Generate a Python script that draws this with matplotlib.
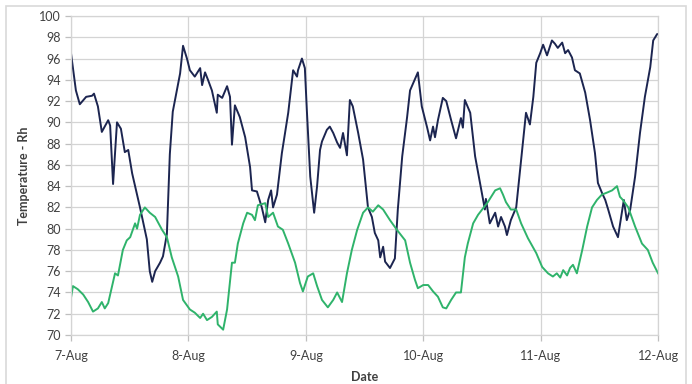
import matplotlib
matplotlib.use("Agg")
import matplotlib.pyplot as plt
from matplotlib.patches import Rectangle

# hours since 7-Aug 00:00
rh_hours = [0.0, 1.0, 1.8, 3.1, 4.3, 4.7, 5.5, 6.3, 7.6, 8.0, 8.6, 9.4, 10.2, 11.0, 11.7, 12.5,
            14.1, 15.5, 16.1, 16.6, 17.2, 18.2, 18.8, 19.6, 20.2, 20.8, 22.3, 22.9, 23.7, 24.3,
            25.3, 26.4, 26.8, 27.4, 28.0, 28.8, 29.8, 30.0, 30.9, 31.9, 32.5, 32.9, 33.5, 34.5,
            35.6, 36.6, 37.0, 38.0, 39.0, 39.7, 40.3, 40.9, 41.3, 42.1, 43.1, 44.4, 45.4, 46.2,
            46.4, 47.2, 47.8, 48.2, 48.9, 49.7, 50.3, 50.9, 51.3, 52.3, 52.9, 53.6, 54.4, 55.0,
            55.6, 56.4, 57.0, 57.6, 58.7, 59.7, 60.7, 61.5, 62.1, 62.8, 63.2, 63.8, 64.2, 65.2,
            66.2, 66.8, 67.7, 68.7, 69.3, 70.9, 71.7, 72.8, 73.4, 74.0, 74.4, 75.0, 76.0, 76.7,
            77.7, 78.7, 79.7, 80.1, 80.5, 81.6, 82.6, 83.6, 84.6, 84.8, 85.6, 86.7, 87.3, 87.9,
            88.7, 89.1, 89.9, 91.0, 92.0, 93.0, 93.8, 94.5, 95.1, 95.9, 96.5, 97.3, 98.3, 98.9,
            99.5, 100.4, 101.0, 101.6, 102.4, 103.0, 104.0, 105.1, 106.1, 107.1, 107.7, 108.5,
            109.2, 109.8, 110.8, 111.8, 112.6, 113.0, 113.6, 114.3, 115.3, 116.3, 117.3, 118.4,
            119.0, 119.8, 120.0]
rh_values = [96.5, 93.0, 91.7, 92.4, 92.5, 92.7, 91.5, 89.1, 90.2, 89.7, 84.2, 90.0, 89.4, 87.2, 87.4, 85.2,
             82.0, 79.0, 76.0, 75.0, 76.0, 76.8, 77.4, 79.5, 87.0, 91.0, 94.6, 97.2, 96.0, 94.9,
             94.3, 95.1, 93.5, 94.7, 94.0, 93.0, 90.9, 92.6, 92.3, 93.4, 92.4, 87.9, 91.6, 90.5,
             88.6, 85.8, 83.6, 83.5, 82.0, 80.6, 82.7, 83.6, 82.0, 83.2, 87.1, 90.9, 94.9, 94.3,
             94.9, 96.0, 95.1, 91.2, 84.9, 81.5, 84.0, 87.4, 88.2, 89.3, 89.6, 89.0, 88.1, 87.6,
             89.0, 86.9, 92.1, 91.5, 89.0, 86.5, 82.0, 81.1, 79.6, 78.9, 77.3, 78.3, 76.9, 76.3,
             77.2, 81.8, 86.8, 90.5, 93.0, 94.7, 91.5, 89.5, 88.3, 89.6, 88.6, 90.2, 92.3, 92.0,
             90.2, 88.5, 90.4, 89.5, 92.1, 90.9, 86.8, 84.3, 81.8, 82.8, 80.5, 81.5, 80.2, 81.1,
             80.2, 79.4, 80.8, 82.0, 86.5, 90.9, 89.8, 92.4, 95.6, 96.5, 97.3, 96.3, 97.7, 97.4,
             97.0, 97.5, 96.5, 96.8, 96.1, 94.9, 94.6, 92.8, 90.2, 87.1, 84.3, 83.4,
             82.7, 81.8, 80.2, 79.2, 81.5, 82.7, 80.8, 81.8, 84.9, 89.0, 92.4, 95.2,
             97.7, 98.3, 98.3]

temp_hours = [0.0, 0.4, 1.4, 2.5, 3.5, 4.5, 5.5, 6.3, 6.9, 7.6, 9.0, 9.6, 10.6, 11.4, 12.1, 13.1,
              13.5, 14.1, 15.1, 16.1, 17.2, 18.6, 19.6, 20.6, 21.9, 22.9, 24.3, 25.3, 26.4, 27.0,
              27.8, 28.8, 29.8, 30.0, 31.1, 31.9, 32.9, 33.5, 34.1, 35.2, 36.0, 37.0, 37.6, 38.2,
              39.7, 40.3, 41.3, 42.3, 43.3, 44.4, 45.8, 46.8, 47.4, 48.4, 49.5, 50.3, 51.3, 52.5,
              53.6, 54.4, 55.4, 56.4, 57.4, 58.5, 59.7, 60.7, 61.7, 62.8, 63.8, 65.2, 66.6, 68.3,
              69.3, 70.3, 70.9, 72.0, 73.0, 74.0, 75.0, 76.0, 76.7, 77.7, 78.7, 79.7, 80.5, 81.1,
              82.2, 83.2, 84.2, 85.2, 86.7, 87.7, 88.3, 88.9, 89.9, 91.0, 92.0, 93.4, 95.1, 96.3,
              97.5, 98.5, 99.3, 100.0, 100.6, 101.4, 102.0, 102.6, 103.4, 104.5, 105.5, 106.5,
              107.5, 108.5, 109.6, 110.6, 111.6, 112.2, 112.8, 113.9, 115.3, 116.7, 117.9, 118.9,
              120.0]
temp_values = [73.5, 74.6, 74.3, 73.8, 73.1, 72.2, 72.5, 73.1, 72.5, 73.0, 75.8, 75.6, 78.0, 78.9, 79.2, 80.5,
               80.0, 81.3, 82.0, 81.5, 81.1, 79.9, 79.2, 77.3, 75.5, 73.3, 72.4, 72.1, 71.6, 72.0,
               71.4, 71.7, 72.2, 71.0, 70.5, 72.4, 76.8, 76.8, 78.6, 80.5, 81.5, 81.3, 80.8, 82.2,
               82.4, 81.1, 81.5, 80.2, 79.9, 78.6, 76.8, 74.9, 74.1, 75.5, 75.8, 74.6, 73.3, 72.6,
               73.3, 74.0, 73.1, 75.8, 78.0, 79.9, 81.5, 82.0, 81.6, 82.2, 81.8, 80.8, 79.9, 78.9,
               76.8, 75.2, 74.4, 74.7, 74.7, 74.1, 73.6, 72.6, 72.5, 73.3, 74.0, 74.0, 77.3, 78.6,
               80.5, 81.3, 81.9, 82.5, 83.6, 83.8, 83.2, 82.5, 81.8, 81.8, 80.5, 79.1, 77.7, 76.4,
               75.8, 75.5, 75.8, 75.4, 76.1, 75.6, 76.3, 76.6, 75.8, 78.0, 80.2, 82.0,
               82.7, 83.2, 83.4, 83.6, 84.0, 83.0, 82.7, 82.0, 80.2, 78.6, 78.0, 76.8,
               75.8]

day_labels = ["7-Aug", "8-Aug", "9-Aug", "10-Aug", "11-Aug", "12-Aug"]
y_ticks = list(range(70, 101, 2))

plt.rcParams['font.family'] = ['Lato', 'DejaVu Sans']

fig = plt.figure(figsize=(6.92, 3.84), dpi=100)
fig.patches.append(Rectangle((0.008, -0.02), 0.984, 1.005, transform=fig.transFigure,
                             fill=False, edgecolor='#d9d9d9', linewidth=1.2))
ax = fig.add_axes([0.1026, 0.1276, 0.8484, 0.8307])

ax.plot(rh_hours, rh_values, color='#1c2550', linewidth=1.4)
ax.plot(temp_hours, temp_values, color='#2fb36b', linewidth=1.4)

ax.set_xlim(0, 120)
ax.set_ylim(70, 100)
ax.set_xticks([24 * i for i in range(len(day_labels))])
ax.set_xticklabels(day_labels)
ax.set_yticks(y_ticks)
ax.grid(True, color='#d4d4d4', linewidth=0.9)
ax.set_axisbelow(True)
for s in ax.spines.values():
    s.set_color('#d4d4d4')
    s.set_linewidth(0.9)
ax.tick_params(axis='both', colors='#bfbfbf', labelcolor='#404040', labelsize=9, length=4, width=0.9)
ax.tick_params(axis='x', pad=7)

ax.set_xlabel("Date", fontsize=9, fontweight='bold', color='#404040', labelpad=6)
ax.set_ylabel("Temperature - Rh", fontsize=9, fontweight='bold', color='#404040', labelpad=6)

fig.savefig("out.png", dpi=100)
